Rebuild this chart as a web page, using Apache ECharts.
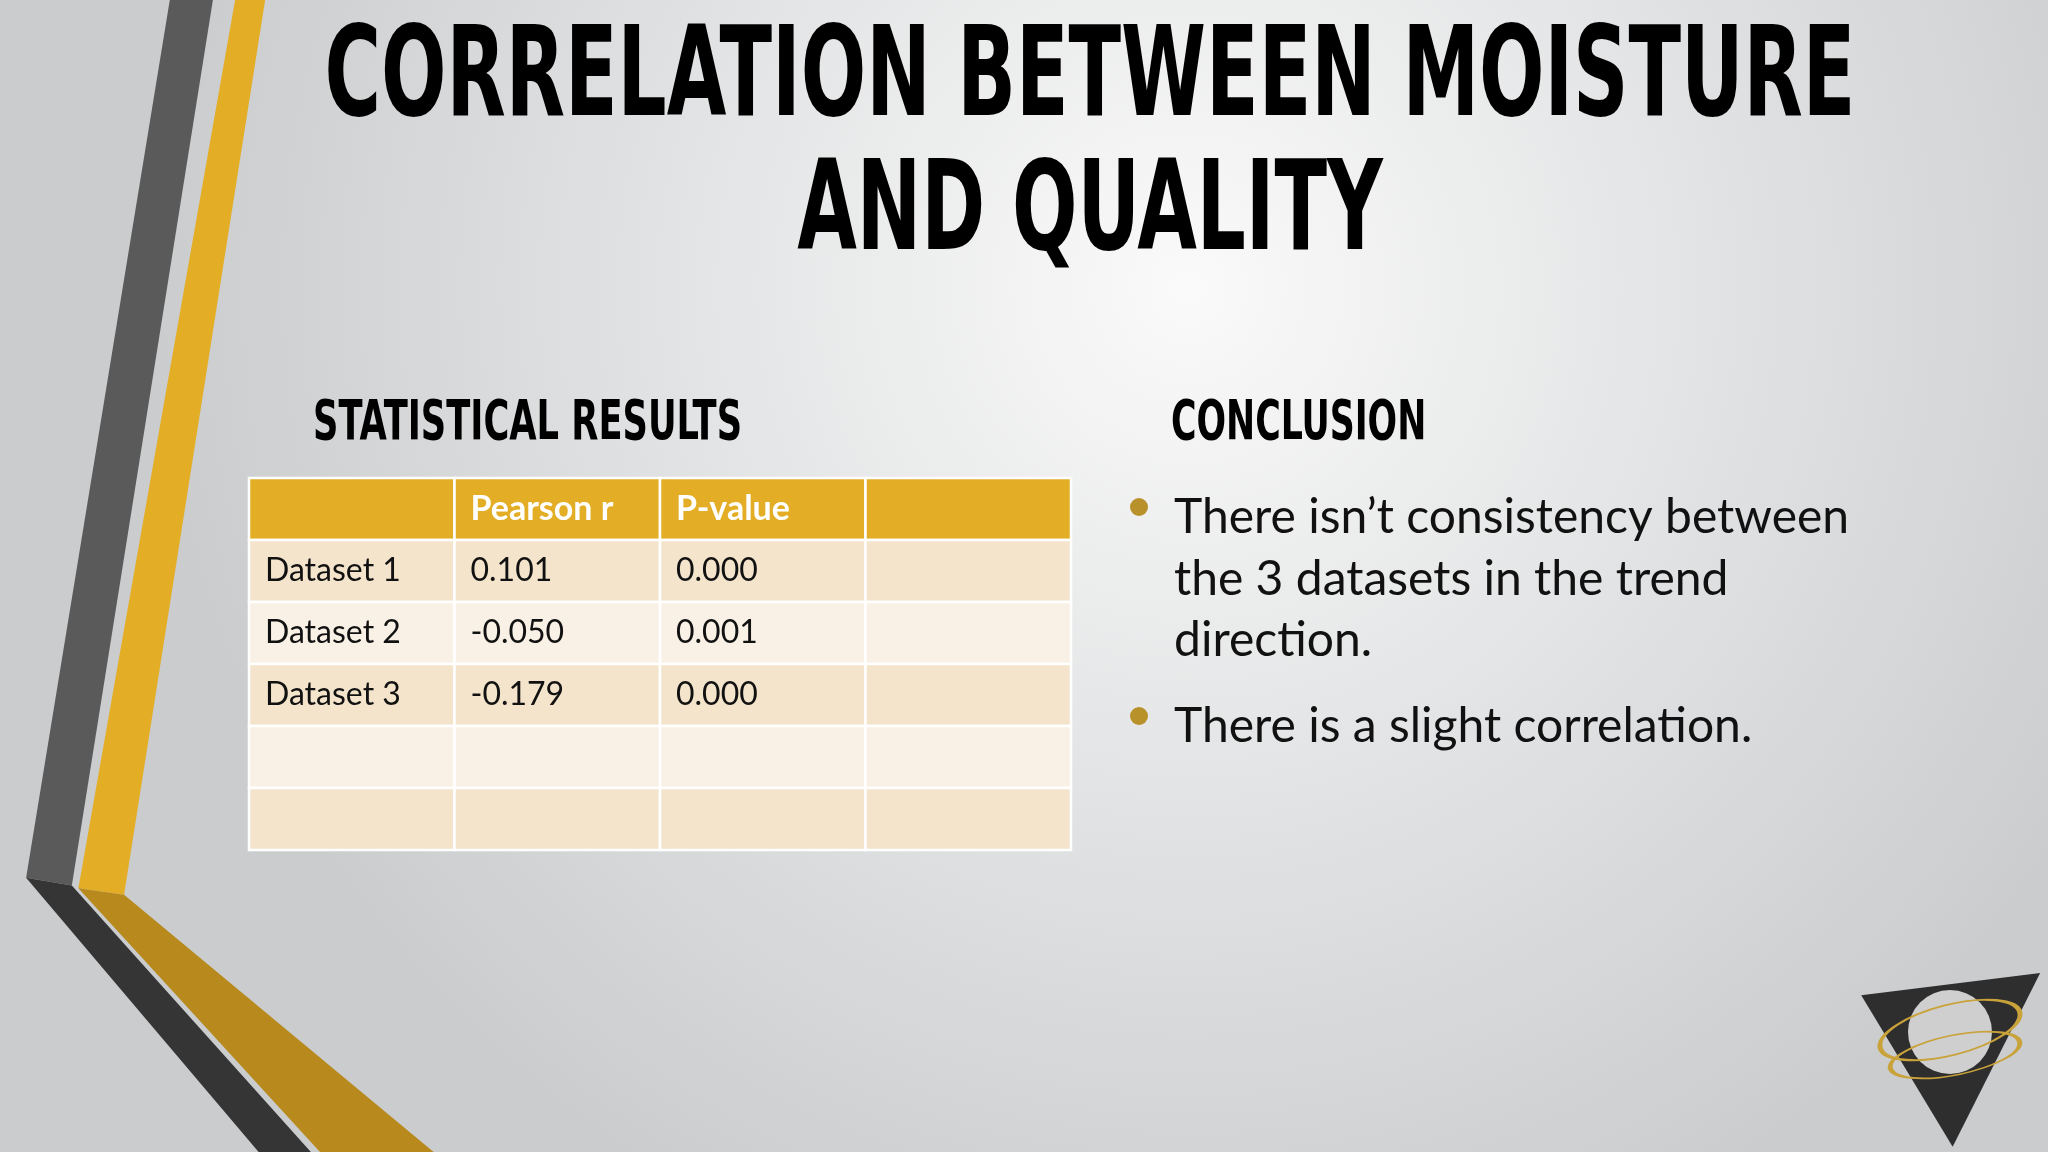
<!DOCTYPE html>
<html><head><meta charset="utf-8">
<script src="https://cdn.jsdelivr.net/npm/echarts@6/dist/echarts.min.js"></script>
<style>html,body{margin:0;padding:0;}#c{width:2048px;height:1152px;}</style>
</head><body><div id="c"></div>
<script>
const columns = ['', 'Pearson r', 'P-value', ''];
const rowLabels = ['Dataset 1', 'Dataset 2', 'Dataset 3', '', ''];
const pearsonR = ['0.101', '-0.050', '-0.179', '', ''];
const pValues = ['0.000', '0.001', '0.000', '', ''];
const bullets = ['There isn\u2019t consistency between', 'the 3 datasets in the trend', 'direction.'];
const bullet2 = 'There is a slight correlation.';

const S = 2048 / 1568;
const P = pts => pts.map(p => [p[0] * S, p[1] * S]);

const cells = [];
columns.forEach((c, x) => cells.push([x, 0, c, 'h']));
for (let r = 0; r < rowLabels.length; r++) {
  const vals = [rowLabels[r], pearsonR[r], pValues[r], ''];
  vals.forEach((v, x) => cells.push([x, r + 1, v, r % 2 === 0 ? 'a' : 'b']));
}
const fills = { h: '#E3AE25', a: '#F3E4CB', b: '#F9F1E5' };
const HF = 'bold 124px "Liberation Sans Narrow", "DejaVu Sans Condensed", sans-serif';
const SF = 'bold 56px "Liberation Sans Narrow", "DejaVu Sans Condensed", sans-serif';
const BF = '48px Lato, "Open Sans", sans-serif';

const chart = echarts.init(document.getElementById('c'));
chart.setOption({
  backgroundColor: {
    type: 'radial', x: 0.58, y: 0.25, r: 0.9,
    colorStops: [{ offset: 0, color: '#FAFAFA' }, { offset: 1, color: '#CACCCE' }]
  },
  grid: { left: 249, top: 478, width: 822, height: 372 },
  xAxis: { type: 'category', data: [0, 1, 2, 3], show: false },
  yAxis: { type: 'category', data: [0, 1, 2, 3, 4, 5], inverse: true, show: false },
  series: [{
    type: 'custom',
    data: cells,
    renderItem: (params, api) => {
      const p = api.coord([api.value(0), api.value(1)]);
      const s = api.size([1, 1]);
      const d = cells[params.dataIndex];
      return {
        type: 'group',
        children: [
          { type: 'rect', shape: { x: p[0] - s[0] / 2, y: p[1] - s[1] / 2, width: s[0], height: s[1] },
            style: { fill: fills[d[3]], stroke: '#FFFFFF', lineWidth: 2.5 } },
          { type: 'text', x: p[0] - s[0] / 2 + 16, y: p[1],
            style: { text: d[2], fill: d[3] === 'h' ? '#FFFFFF' : '#111111',
              font: (d[3] === 'h' ? 'bold 34px' : '32px') + ' Lato, "Open Sans", sans-serif',
              verticalAlign: 'middle', align: 'left' } }
        ]
      };
    }
  }],
  graphic: [
    { type: 'polygon', shape: { points: P([[130,0],[163,0],[55,678],[20,672]]) }, style: { fill: '#5A5A5A' } },
    { type: 'polygon', shape: { points: P([[20,672],[55,678],[238,882],[198,882]]) }, style: { fill: '#353535' } },
    { type: 'polygon', shape: { points: P([[180,0],[203,0],[95,685],[60,680]]) }, style: { fill: '#E3AE25' } },
    { type: 'polygon', shape: { points: P([[60,680],[95,685],[332,882],[245,882]]) }, style: { fill: '#B8891C' } },
    { type: 'text', x: 1090, y: 83, scaleX: 0.69, style: { text: 'CORRELATION BETWEEN MOISTURE', font: HF, fill: '#000', align: 'center', verticalAlign: 'middle' } },
    { type: 'text', x: 1090, y: 217, scaleX: 0.69, style: { text: 'AND QUALITY', font: HF, fill: '#000', align: 'center', verticalAlign: 'middle' } },
    { type: 'text', x: 313, y: 424, scaleX: 0.7, style: { text: 'STATISTICAL RESULTS', font: SF, fill: '#000', verticalAlign: 'middle' } },
    { type: 'text', x: 1171, y: 424, scaleX: 0.69, style: { text: 'CONCLUSION', font: SF, fill: '#000', verticalAlign: 'middle' } },
    { type: 'circle', shape: { cx: 1139, cy: 507, r: 9 }, style: { fill: '#B8912A' } },
    { type: 'circle', shape: { cx: 1139, cy: 716, r: 9 }, style: { fill: '#B8912A' } },
    { type: 'text', x: 1174, y: 518, style: { text: bullets[0], font: BF, fill: '#111', verticalAlign: 'middle' } },
    { type: 'text', x: 1174, y: 580, style: { text: bullets[1], font: BF, fill: '#111', verticalAlign: 'middle' } },
    { type: 'text', x: 1174, y: 641, style: { text: bullets[2], font: BF, fill: '#111', verticalAlign: 'middle' } },
    { type: 'text', x: 1174, y: 727, style: { text: bullet2, font: BF, fill: '#111', verticalAlign: 'middle' } },
    { type: 'polygon', shape: { points: P([[1425,762],[1562,745],[1495,878]]) }, style: { fill: '#2E2E2E' } },
    { type: 'circle', shape: { cx: 1950, cy: 1032, r: 42 }, style: { fill: '#CFCFCF' } },
    { type: 'circle', x: 1950, y: 1030, scaleY: 0.35, rotation: 0.25, shape: { cx: 0, cy: 0, r: 72 }, style: { fill: 'none', stroke: '#C9A23A', lineWidth: 5 } },
    { type: 'circle', x: 1955, y: 1055, scaleY: 0.3, rotation: 0.2, shape: { cx: 0, cy: 0, r: 66 }, style: { fill: 'none', stroke: '#C9A23A', lineWidth: 5 } }
  ]
});
</script></body></html>
